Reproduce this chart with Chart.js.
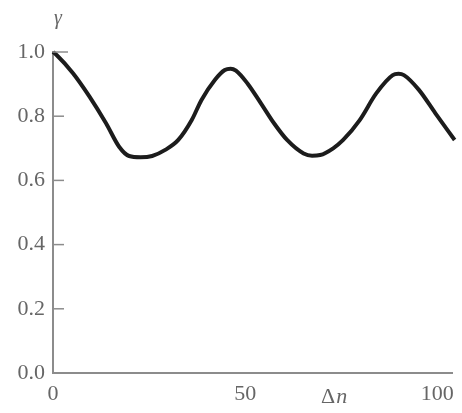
<!DOCTYPE html>
<html>
<head>
<meta charset="utf-8">
<script src="https://cdn.jsdelivr.net/npm/chart.js@4"></script>
<style>
  html, body { margin: 0; padding: 0; background: #ffffff; }
  #wrap { width: 462px; height: 413px; }
</style>
</head>
<body>
<div id="wrap"><canvas id="c" width="462" height="413"></canvas></div>
<script>
// Coherence factor gamma versus path difference Δn
const deltaN = [0, 1, 5.2, 9.5, 13.8, 17.2, 19.8, 22.8, 25.8, 29.2, 32.6, 36.1, 38.6, 42.1, 44.7, 46.2, 47.6, 50.6, 54.1, 57.5, 60.9, 65.2, 67.4, 69.5, 72.9, 75.5, 79.8, 84.1, 88.4, 89.9, 91.3, 95.2, 99.5, 104.5];
const gamma  = [1.0, 0.99, 0.934, 0.861, 0.778, 0.705, 0.676, 0.672, 0.676, 0.695, 0.726, 0.788, 0.850, 0.913, 0.944, 0.948, 0.942, 0.902, 0.840, 0.778, 0.726, 0.684, 0.677, 0.679, 0.700, 0.726, 0.788, 0.871, 0.928, 0.932, 0.928, 0.882, 0.809, 0.726];
const xTicks = [0, 50, 100];
const yTicks = [0.0, 0.2, 0.4, 0.6, 0.8, 1.0];
const xTitlePos = 73;   // Δn sits between the 50 and 100 labels
const yTitle = 'γ';

const serif = '"Liberation Serif", "DejaVu Serif", serif';
const textColor = '#666666';
const axisColor = '#8c8c8c';

// Short inward tick marks on the y axis plus the two axis titles
const decorations = {
  id: 'decorations',
  afterDraw(chart) {
    const { ctx, chartArea, scales } = chart;
    const y = scales.y, x = scales.x;
    ctx.save();
    ctx.strokeStyle = axisColor;
    ctx.lineWidth = 1.5;
    yTicks.forEach(v => {
      if (v === 0) return;
      const py = y.getPixelForValue(v);
      const len = v === 1.0 ? 15 : 11;
      ctx.beginPath();
      ctx.moveTo(chartArea.left, py);
      ctx.lineTo(chartArea.left + len, py);
      ctx.stroke();
    });
    ctx.fillStyle = textColor;
    ctx.textBaseline = 'alphabetic';
    ctx.textAlign = 'center';
    ctx.font = 'italic 20px ' + serif;
    ctx.fillText(yTitle, chartArea.left + 5, 24);
    // Δ upright, n italic
    const px = x.getPixelForValue(xTitlePos);
    const base = chartArea.bottom + 30;
    ctx.textAlign = 'left';
    ctx.font = '22px ' + serif;
    const wD = ctx.measureText('Δ').width;
    ctx.font = 'italic 22px ' + serif;
    const wN = ctx.measureText('n').width;
    const start = px - (wD + wN) / 2;
    ctx.font = '22px ' + serif;
    ctx.fillText('Δ', start, base);
    ctx.font = 'italic 22px ' + serif;
    ctx.fillText('n', start + wD + 1, base);
    ctx.restore();
  }
};

new Chart(document.getElementById('c'), {
  type: 'line',
  data: {
    datasets: [{
      data: deltaN.map((v, i) => ({ x: v, y: gamma[i] })),
      borderColor: '#1c1c1c',
      borderWidth: 4,
      pointRadius: 0,
      cubicInterpolationMode: 'monotone',
      fill: false,
      clip: false
    }]
  },
  options: {
    responsive: false,
    animation: false,
    layout: { padding: { top: 52, right: 4, left: 0, bottom: 0 } },
    plugins: { legend: { display: false }, tooltip: { enabled: false } },
    scales: {
      x: {
        type: 'linear',
        min: 0,
        max: 104,
        afterBuildTicks: s => { s.ticks = xTicks.map(v => ({ value: v })); },
        afterFit: s => { s.height = 40; },
        grid: { display: false, drawTicks: false },
        border: { display: true, color: axisColor, width: 2 },
        ticks: {
          color: textColor,
          font: { family: serif, size: 22 },
          padding: 8,
          maxRotation: 0
        }
      },
      y: {
        type: 'linear',
        min: 0,
        max: 1.0,
        afterBuildTicks: s => { s.ticks = yTicks.map(v => ({ value: v })); },
        afterFit: s => { s.width = 53; },
        grid: { display: false, drawTicks: false },
        border: { display: true, color: axisColor, width: 2 },
        ticks: {
          color: textColor,
          font: { family: serif, size: 22 },
          padding: 8,
          callback: v => v.toFixed(1)
        }
      }
    }
  },
  plugins: [decorations]
});
</script>
</body>
</html>
